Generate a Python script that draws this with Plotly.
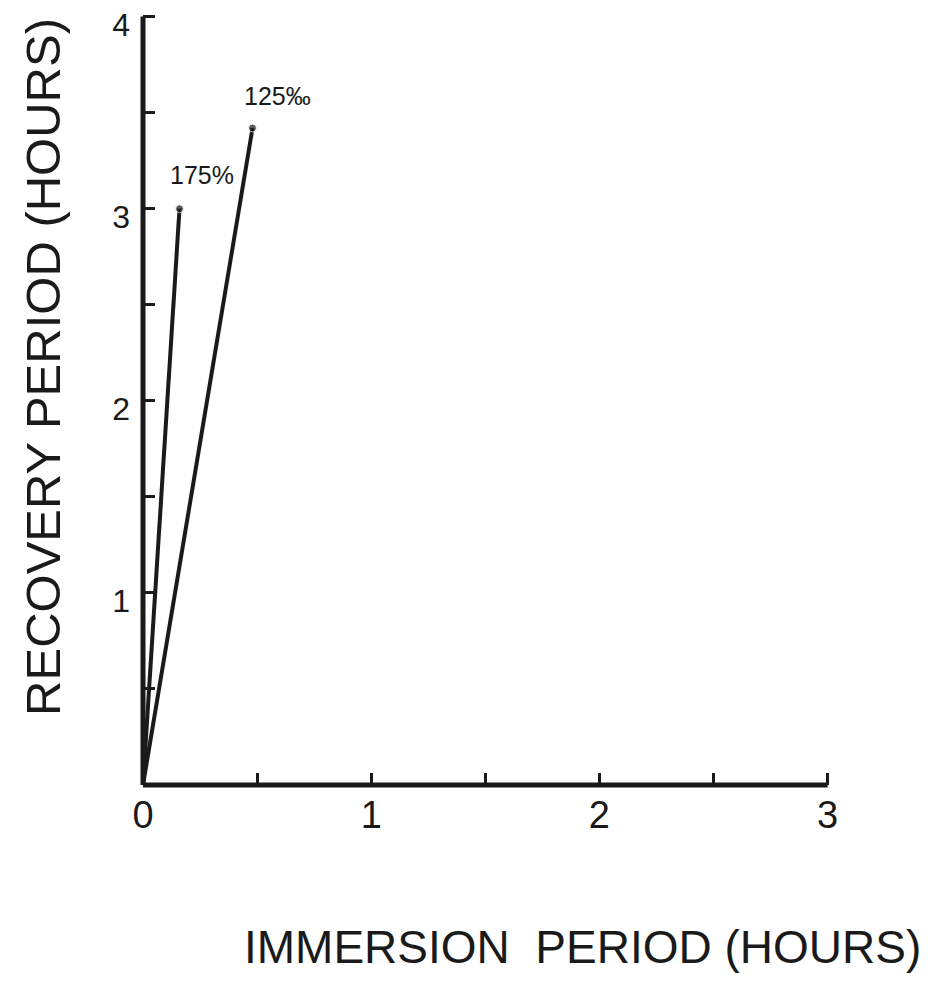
import plotly.graph_objects as go

# Data
series_names = ["175%", "125‰"]
immersion_175 = [0.0, 0.16]
recovery_175 = [0.0, 3.0]
immersion_125 = [0.0, 0.48]
recovery_125 = [0.0, 3.42]

x_tickvals = [0, 0.5, 1, 1.5, 2, 2.5, 3]
x_ticktext = ["0", "", "1", "", "2", "", "3"]
y_tickvals = [0, 0.5, 1, 1.5, 2, 2.5, 3, 3.5, 4]
y_ticktext = ["", "", "1", "", "2", "", "3", "", "4"]

x_title = "IMMERSION&nbsp; PERIOD (HOURS)"
y_title = "RECOVERY PERIOD (HOURS)"

FONT = "Liberation Sans, Arial, sans-serif"
INK = "#1a1a1a"

X_MAX = x_tickvals[-1]
Y_MAX = y_tickvals[-1]
X_RANGE = [0, 3.05]
Y_RANGE = [0, 4.05]

fig = go.Figure()
for xs, ys, name in [(immersion_175, recovery_175, series_names[0]),
                     (immersion_125, recovery_125, series_names[1])]:
    fig.add_trace(go.Scatter(
        x=xs, y=ys, mode="lines+markers", name=name,
        line=dict(color=INK, width=4),
        marker=dict(size=[0, 8], color=INK),
        cliponaxis=False, showlegend=False,
    ))

# Axis lines ending exactly at the last tick, as in the reference (paper refs -> not clipped)
fig.add_shape(type="line", xref="paper", yref="paper",
              x0=0, y0=0, x1=X_MAX / X_RANGE[1], y1=0,
              line=dict(color=INK, width=5), layer="above")
fig.add_shape(type="line", xref="paper", yref="paper",
              x0=0, y0=0, x1=0, y1=Y_MAX / Y_RANGE[1],
              line=dict(color=INK, width=5), layer="above")

# Labels at the line ends
fig.add_annotation(x=immersion_175[1], y=recovery_175[1], text=series_names[0],
                   showarrow=False, xanchor="center", yanchor="bottom",
                   xshift=22, yshift=18,
                   font=dict(family=FONT, size=25, color=INK))
fig.add_annotation(x=immersion_125[1], y=recovery_125[1], text=series_names[1],
                   showarrow=False, xanchor="center", yanchor="bottom",
                   xshift=25, yshift=16,
                   font=dict(family=FONT, size=25, color=INK))

# Axis titles placed as in the reference
fig.add_annotation(xref="paper", yref="paper", x=0.631, y=-0.208,
                   text=x_title, showarrow=False,
                   xanchor="center", yanchor="middle",
                   font=dict(family=FONT, size=46, color=INK))
fig.add_annotation(xref="paper", yref="paper", x=-0.143, y=0.538,
                   text=y_title, showarrow=False, textangle=-90,
                   xanchor="center", yanchor="middle",
                   font=dict(family=FONT, size=49, color=INK))

fig.update_layout(
    width=934, height=981,
    margin=dict(l=143, r=95, t=7, b=196, autoexpand=False),
    paper_bgcolor="white", plot_bgcolor="white",
    font=dict(family=FONT, color=INK),
    xaxis=dict(
        range=X_RANGE, tickvals=x_tickvals, ticktext=x_ticktext,
        ticks="inside", ticklen=12, tickwidth=3, tickcolor=INK,
        showline=False, showgrid=False, zeroline=False,
        ticklabeloverflow="allow", automargin=False,
        ticklabelstandoff=4,
        tickfont=dict(size=38, family=FONT),
    ),
    yaxis=dict(
        range=Y_RANGE, tickvals=y_tickvals, ticktext=y_ticktext,
        ticks="inside", ticklen=12, tickwidth=3, tickcolor=INK,
        showline=False, showgrid=False, zeroline=False,
        ticklabeloverflow="allow", automargin=False,
        ticklabelstandoff=12, ticklabelshift=8,
        tickfont=dict(size=32, family=FONT),
    ),
)

fig.write_html("out.html")
